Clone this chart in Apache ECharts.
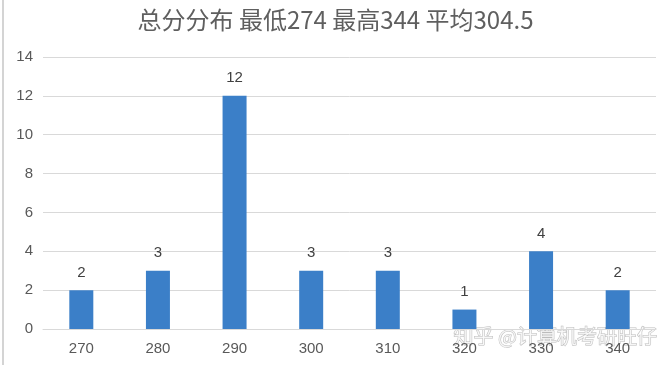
<!DOCTYPE html>
<html>
<head>
<meta charset="utf-8">
<script src="https://cdn.jsdelivr.net/npm/echarts@6/dist/echarts.min.js"></script>
<style>html,body{margin:0;padding:0;background:#fff;}#c{width:671px;height:365px;}</style>
</head>
<body>
<div id="c"></div>
<script>
const titleText = '总分分布 最低274 最高344 平均304.5';
const categories = ['270', '280', '290', '300', '310', '320', '330', '340'];
const counts = [2, 3, 12, 3, 3, 1, 4, 2];
const watermark = '知乎 @计算机考研旺仔';

const chart = echarts.init(document.getElementById('c'));
chart.setOption({
  backgroundColor: '#fff',
  animation: false,
  title: {
    text: titleText, left: 'center', top: 3,
    textStyle: { fontFamily: 'Noto Sans CJK SC', fontSize: 24, fontWeight: 'normal', color: '#5f5f5f' }
  },
  grid: { left: 43, right: 15, top: 57, bottom: 36 },
  xAxis: {
    type: 'category', data: categories,
    axisLine: { lineStyle: { color: '#d9d9d9' } },
    axisTick: { show: false },
    axisLabel: { color: '#595959', fontSize: 15, fontFamily: 'Liberation Sans', margin: 12 }
  },
  yAxis: {
    type: 'value', min: 0, max: 14, interval: 2,
    axisLine: { show: false }, axisTick: { show: false },
    splitLine: { lineStyle: { color: '#d9d9d9' } },
    axisLabel: { color: '#595959', fontSize: 15, fontFamily: 'Liberation Sans', margin: 10 }
  },
  series: [{
    type: 'bar', data: counts, barWidth: 24,
    itemStyle: { color: '#3b7fc8' },
    label: { show: true, position: 'top', distance: 10, color: '#404040', fontSize: 15, fontFamily: 'Liberation Sans' }
  }],
  graphic: [
    { type: 'line', shape: { x1: 3, y1: 0, x2: 3, y2: 365 }, style: { stroke: '#d4d4d4', lineWidth: 2 } },
    { type: 'text', left: 453, top: 326, style: { text: watermark, fontSize: 20, fontFamily: 'Noto Sans CJK SC', fill: 'rgba(255,255,255,0.75)', stroke: 'rgba(160,160,160,0.7)', lineWidth: 1 } }
  ]
});
</script>
</body>
</html>
